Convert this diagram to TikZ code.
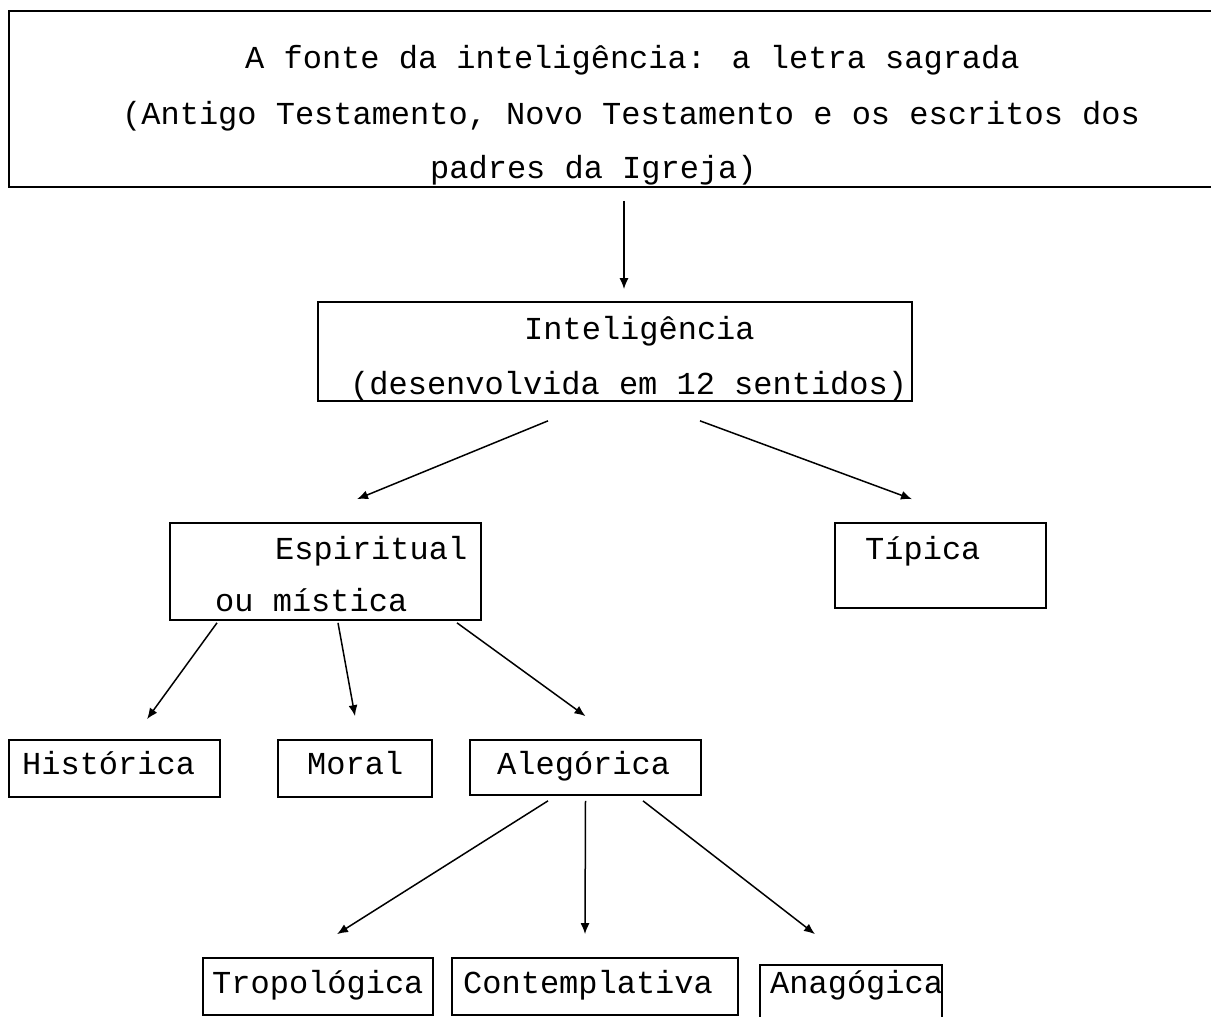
\documentclass[tikz,border=0pt]{standalone}
\usepackage{fontspec}
\newfontfamily\courfont{Liberation Mono}
\usetikzlibrary{arrows.meta}

\begin{document}
\begin{tikzpicture}[x=1pt, y=-1pt,
    box/.style={draw, line width=1.7pt, rectangle, inner sep=0pt},
    txt/.style={anchor=base west, inner sep=0pt, font=\courfont\fontsize{32}{38}\selectfont},
    arrow/.style={line width=1.5pt, -{Latex[length=11pt,width=9pt]}}]
          \useasboundingbox (0,0) rectangle (1211,1017);
          \clip (0,0) rectangle (1211,1017);
          % caixas
          \node[box, minimum width=1221pt, minimum height=176pt](fonte)  at (619.5,99)    {};
          \node[box, minimum width=594pt, minimum height=99pt](intel)    at (615,351.5)   {};
          \node[box, minimum width=311pt, minimum height=97pt](espir)    at (325.5,571.5) {};
          \node[box, minimum width=211pt, minimum height=85pt](tipica)   at (940.5,565.5) {};
          \node[box, minimum width=211pt, minimum height=57pt](hist)     at (114.5,768.5) {};
          \node[box, minimum width=154pt, minimum height=57pt](moral)    at (355,768.5)   {};
          \node[box, minimum width=231pt, minimum height=55pt](aleg)     at (585.5,767.5) {};
          \node[box, minimum width=230pt, minimum height=57pt](tropo)    at (318,986.5)   {};
          \node[box, minimum width=286pt, minimum height=57pt](contem)   at (595,986.5)   {};
          \node[box, minimum width=182pt, minimum height=65pt](anago)    at (851,997.5)   {};
          % textos
          \node[txt](fonte1)  at (245,68)  {A fonte da inteligência: a letra sagrada};
          \node[txt](fonte2)  at (122,124) {(Antigo Testamento, Novo Testamento e os escritos dos};
          \node[txt](fonte3)  at (430,178) {padres da Igreja)};
          \node[txt](intel1)  at (524,339) {Inteligência};
          \node[txt](intel2)  at (350,394) {(desenvolvida em 12 sentidos)};
          \node[txt](espir1)  at (275,559) {Espiritual};
          \node[txt](espir2)  at (215,611) {ou mística};
          \node[txt](tipica1) at (865,559) {Típica};
          \node[txt](hist1)   at (22,774)  {Histórica};
          \node[txt](moral1)  at (307,774) {Moral};
          \node[txt](aleg1)   at (497,774) {Alegórica};
          \node[txt](tropo1)  at (212,993) {Tropológica};
          \node[txt](contem1) at (463,993) {Contemplativa};
          \node[txt](anago1)  at (770,993) {Anagógica};
          % setas
        \path[arrow]
          ([xshift=4.5pt,yshift=-13pt]fonte.south) edge ([xshift=9pt,yshift=12pt]intel.north)
          ([xshift=-67pt,yshift=-19pt]intel.south) edge ([xshift=31.5pt,yshift=23pt]espir.north)
          ([xshift=85pt,yshift=-19pt]intel.south) edge ([xshift=-28.5pt,yshift=23pt]tipica.north)
          ([xshift=-108.5pt,yshift=-2pt]espir.south) edge ([xshift=32.5pt,yshift=20pt]hist.north)
          ([xshift=12.5pt,yshift=-2pt]espir.south) edge ([yshift=23pt]moral.north)
          ([xshift=131.5pt,yshift=-2pt]espir.south) edge ([yshift=23pt]aleg.north)
          ([xshift=-37.5pt,yshift=-5pt]aleg.south) edge ([xshift=19pt,yshift=23pt]tropo.north)
          ([yshift=-5pt]aleg.south) edge ([xshift=-10pt,yshift=23pt]contem.north)
          ([xshift=57.5pt,yshift=-5pt]aleg.south) edge ([xshift=-36pt,yshift=30pt]anago.north)
          ;
      \end{tikzpicture}
\end{document}
